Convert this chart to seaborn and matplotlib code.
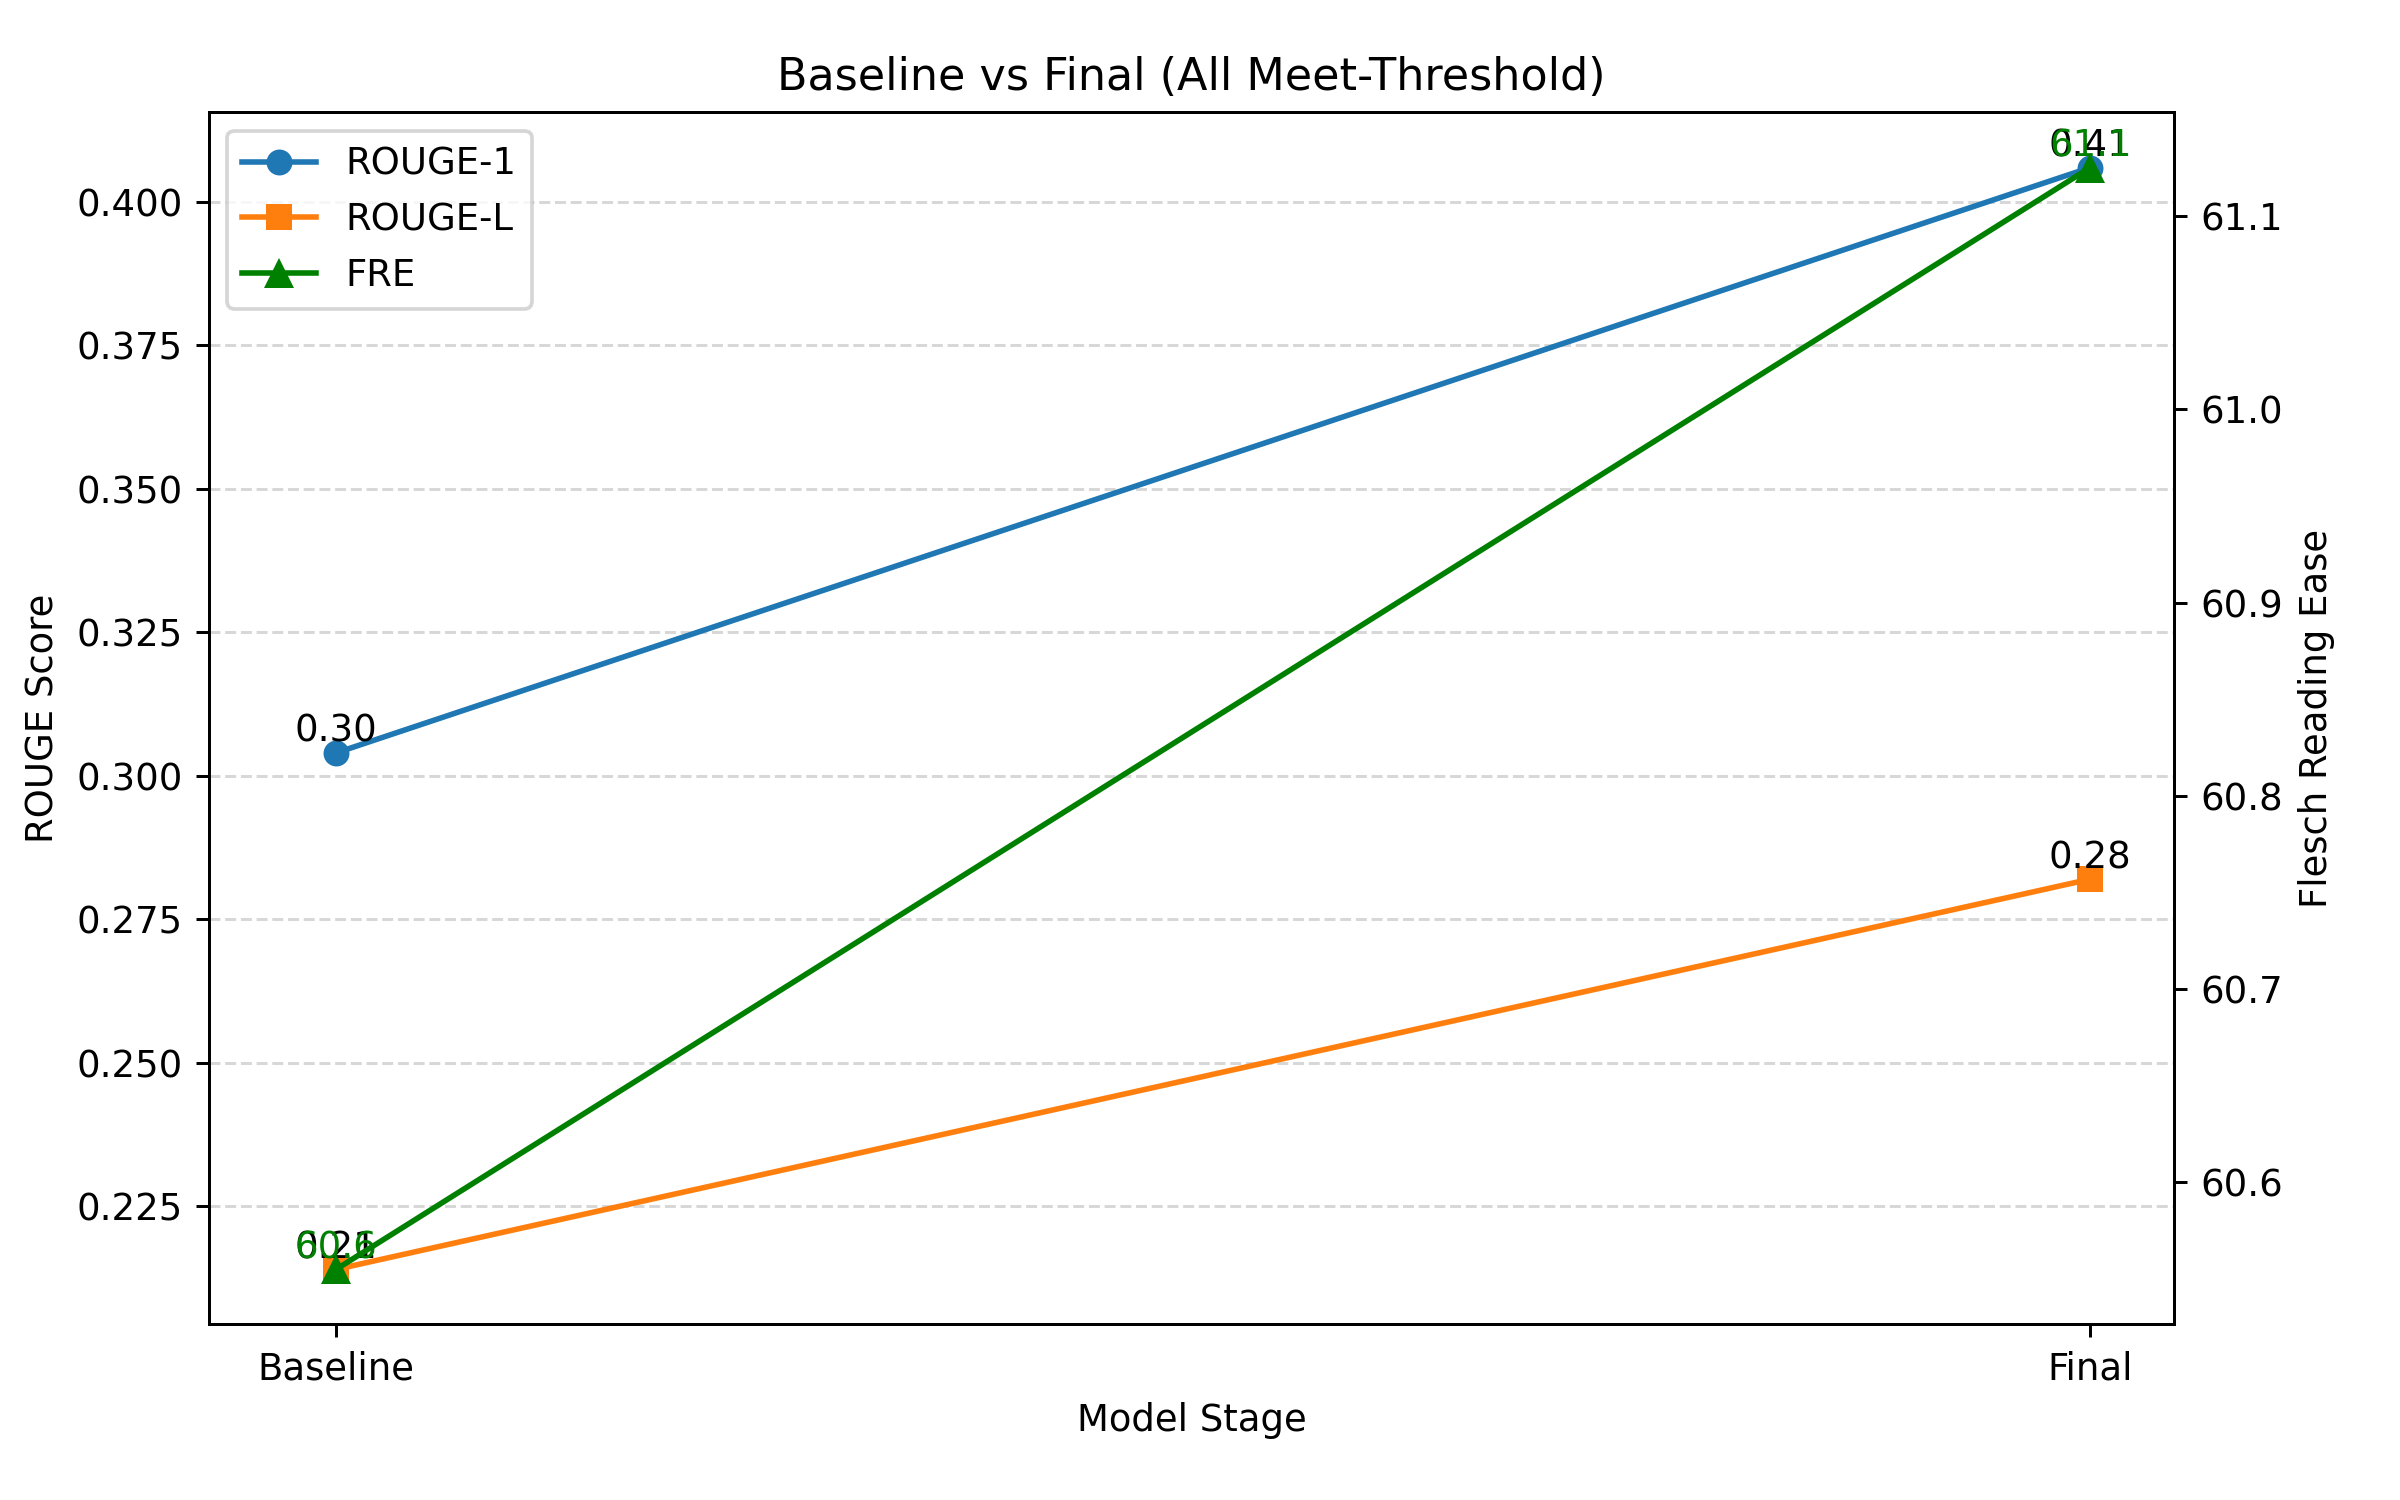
import matplotlib
matplotlib.use("Agg")
import matplotlib.pyplot as plt
import seaborn as sns
import pandas as pd

stages = ["Baseline", "Final"]
rouge1 = [0.304, 0.406]
rougeL = [0.214, 0.282]
fre = [60.555, 61.125]

plt.rcParams['font.family'] = ['DejaVu Sans']
fig, ax = plt.subplots(figsize=(9, 5.625), dpi=266.67)
fig.subplots_adjust(left=0.087, right=0.906, top=0.925, bottom=0.117)
x = [0, 1]
df = pd.DataFrame({"x": x, "r1": rouge1, "rl": rougeL, "fre": fre})
sns.lineplot(data=df, x="x", y="r1", ax=ax, color="#1f77b4", marker="o", markersize=7,
             markeredgewidth=0, label="ROUGE-1", linewidth=1.5)
sns.lineplot(data=df, x="x", y="rl", ax=ax, color="#ff7f0e", marker="s", markersize=7,
             markeredgewidth=0, label="ROUGE-L", linewidth=1.5)
ax2 = ax.twinx()
sns.lineplot(data=df, x="x", y="fre", ax=ax2, color="green", marker="^", markersize=8,
             markeredgewidth=0, label="FRE", linewidth=1.5)
for xi, v in zip(x, rouge1):
    ax.annotate(f"{v:.2f}", (xi, v), xytext=(0, 3), textcoords="offset points", ha="center", fontsize=10)
for xi, v in zip(x, rougeL):
    ax.annotate(f"{v:.2f}", (xi, v), xytext=(0, 3), textcoords="offset points", ha="center", fontsize=10)
for xi, v in zip(x, fre):
    ax2.annotate(f"{v:.1f}", (xi, v), xytext=(0, 3), textcoords="offset points", ha="center", fontsize=10, color="green")
ax.set_xlim(-0.0725, 1.048)
ax.set_xticks(x)
ax.set_xticklabels(stages)
ax.set_xlabel("Model Stage")
ax.set_ylabel("ROUGE Score")
ax2.set_ylabel("Flesch Reading Ease")
ax.set_title("Baseline vs Final (All Meet-Threshold)", fontsize=12)
ax.yaxis.grid(True, linestyle="--", alpha=0.5)
h1, l1 = ax.get_legend_handles_labels()
h2, l2 = ax2.get_legend_handles_labels()
ax2.get_legend().remove()
ax.legend(h1 + h2, l1 + l2, loc="upper left")
fig.savefig("out.png", dpi=266.67)
